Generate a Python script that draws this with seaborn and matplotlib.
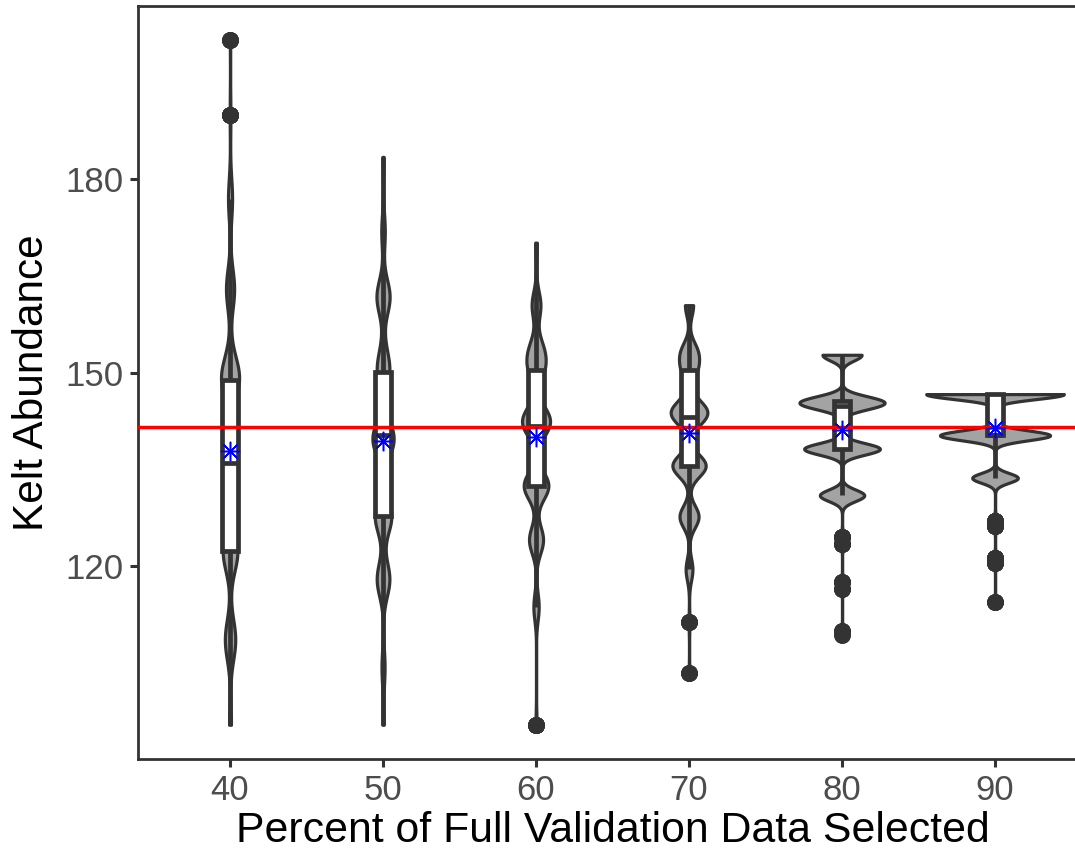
import matplotlib
matplotlib.use("Agg")
import matplotlib.pyplot as plt
import numpy as np
import pandas as pd
import seaborn as sns

pct_labels = ["40", "50", "60", "70", "80", "90"]

# distinct kelt abundance estimates and how often each one came up, per subsample size
vals_40 = [95.4, 108.6, 122.4, 136.0, 148.9, 151.5, 163.0, 177.0, 190.0, 201.6]
cnt_40 = [25, 140, 200, 200, 215, 40, 110, 55, 10, 5]
vals_50 = [95.4, 104.3, 118.0, 127.8, 139.0, 140.3, 150.2, 153.5, 161.8, 171.9, 183.5]
cnt_50 = [15, 35, 145, 190, 100, 150, 130, 30, 150, 40, 15]
vals_60 = [95.4, 113.7, 124.1, 132.5, 141.8, 143.2, 150.5, 153.5, 160.5, 170.2]
cnt_60 = [9, 48, 128, 225, 140, 130, 115, 110, 80, 15]
vals_70 = [103.5, 111.4, 119.5, 127.7, 135.6, 143.2, 144.5, 150.4, 153.2, 160.5]
cnt_70 = [4, 6, 50, 140, 245, 150, 140, 95, 110, 60]
vals_80 = [109.4, 110.0, 116.5, 117.5, 123.5, 124.5, 131.0, 138.2, 144.9, 145.7, 152.8]
cnt_80 = [2, 4, 4, 6, 6, 8, 170, 290, 160, 200, 150]
vals_90 = [114.4, 120.5, 121.2, 126.3, 127.0, 133.7, 140.3, 146.7]
cnt_90 = [5, 6, 10, 8, 12, 149, 360, 450]

true_abundance = 141.6

groups = {
    "40": (vals_40, cnt_40),
    "50": (vals_50, cnt_50),
    "60": (vals_60, cnt_60),
    "70": (vals_70, cnt_70),
    "80": (vals_80, cnt_80),
    "90": (vals_90, cnt_90),
}
frames = []
for lab, (v, c) in groups.items():
    frames.append(pd.DataFrame({"pct": lab, "abund": np.repeat(v, c)}))
df = pd.concat(frames, ignore_index=True)


# bandwidth like R's nrd0 (uses min of sd and IQR/1.34), scaled down
def nrd0_like(kde):
    x = kde.dataset[0]
    sd = x.std(ddof=1)
    q75, q25 = np.percentile(x, [75, 25])
    return 0.16 * min(sd, (q75 - q25) / 1.34) / sd


sns.set_style("white")
plt.rcParams["font.family"] = ["Liberation Sans", "DejaVu Sans"]

fig = plt.figure(figsize=(10.75, 8.56), dpi=100)
ax = fig.add_axes([0.1286, 0.1133, 0.8824, 0.8797])

sns.violinplot(data=df, x="pct", y="abund", order=pct_labels, color="#A3A3A3",
               saturation=1, linecolor="#333333", linewidth=2.3, inner=None, cut=0,
               width=0.9, density_norm="area", bw_method=nrd0_like, gridsize=600, ax=ax)

sns.boxplot(data=df, x="pct", y="abund", order=pct_labels, color="white", saturation=1,
            linecolor="#333333", linewidth=3.4, width=0.11, whis=1.5, fliersize=11,
            flierprops=dict(marker="o", markerfacecolor="#333333",
                            markeredgecolor="#333333", markersize=11),
            capprops=dict(visible=False), ax=ax)

ax.axhline(true_abundance, color="red", linewidth=2.5, zorder=4)

sns.pointplot(data=df, x="pct", y="abund", order=pct_labels, estimator="mean",
              errorbar=None, color="blue", marker=(8, 2, 0), linestyle="none",
              markersize=14, markeredgewidth=1.1, zorder=5, ax=ax)

lo, hi = df["abund"].min(), df["abund"].max()
pad = 0.05 * (hi - lo)
ax.set_ylim(lo - pad, hi + pad)
ax.set_xlim(-0.6, 5.6)
ax.set_yticks([120, 150, 180])

for s in ax.spines.values():
    s.set_visible(True)
    s.set_color("#333333")
    s.set_linewidth(2)
ax.tick_params(axis="both", direction="out", length=5.5, width=2.2, color="#333333",
               labelcolor="#4D4D4D", labelsize=25, pad=5, left=True, bottom=True)

ax.set_xlabel("Percent of Full Validation Data Selected", fontsize=30.8, color="black", labelpad=3)
ax.set_ylabel("Kelt Abundance", fontsize=30.5, color="black", labelpad=10)

fig.savefig("out.png", dpi=100)
